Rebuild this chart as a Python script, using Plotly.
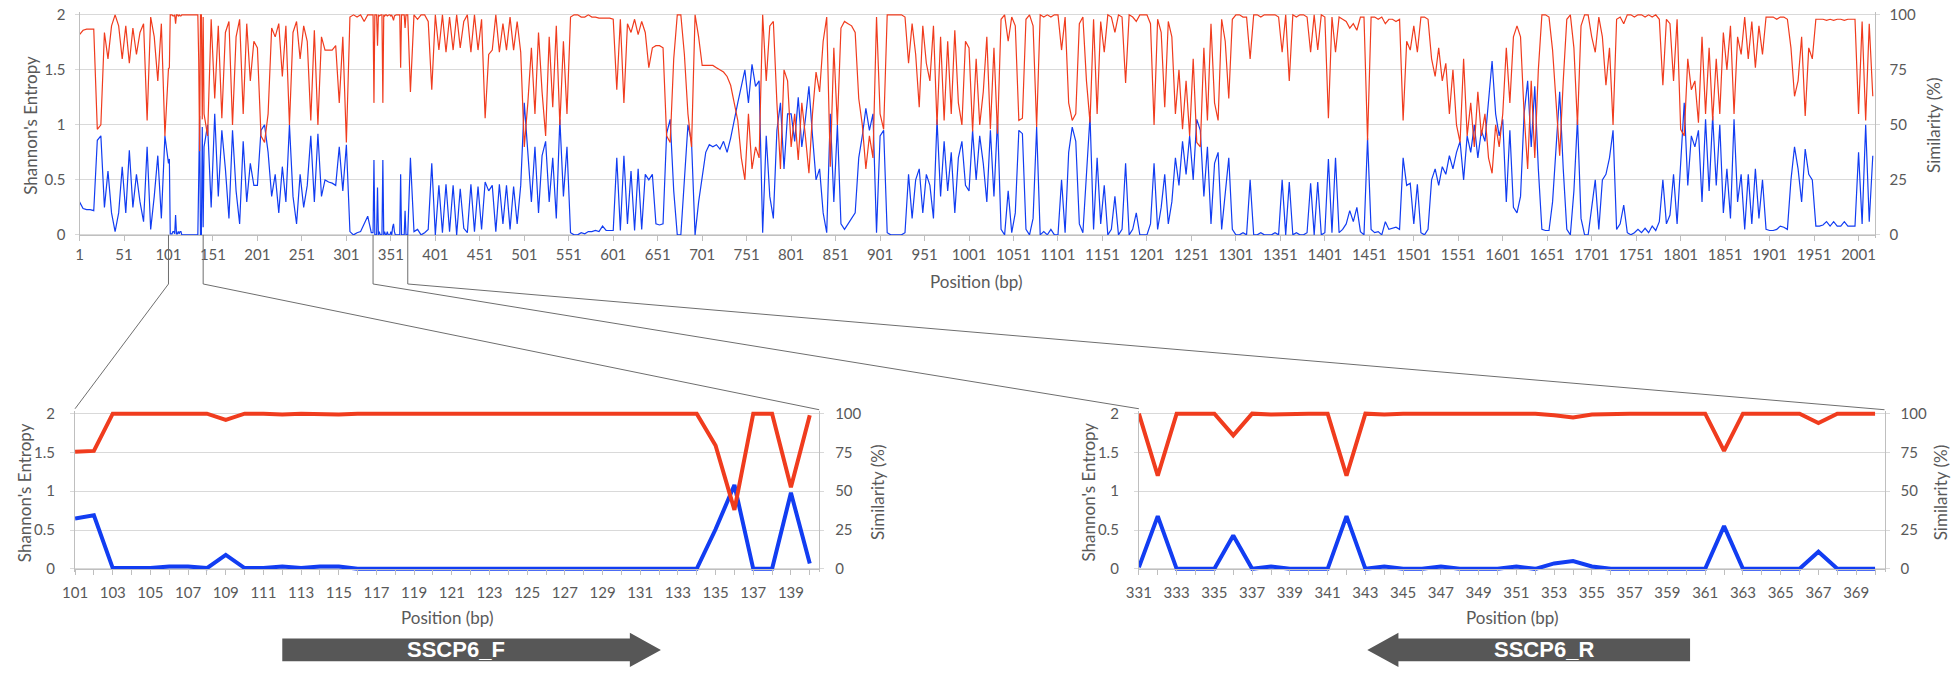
import plotly.graph_objects as go

# ---------------- data ----------------
# overview: values sampled every 4 bp (positions 1, 5, 9, ... 2017)
top_step = 4
top_start = 1

# Shannon's entropy, one row per 100 bp
ent_top = [
    0.30, 0.24, 0.23, 0.23, 0.22, 0.86, 0.90, 0.25, 0.58, 0.20, 0.03, 0.20, 0.62, 0.20, 0.77, 0.25, 0.55, 0.30, 0.12, 0.80, 0.05, 0.35, 0.72, 0.15, 0.90,
    0.65, 0.01, 0.18, 0.01, 0.00, 0.00, 0.00, 0.00, 0.00, 1.08, 0.80, 1.00, 0.25, 1.10, 0.35, 0.95, 0.60, 0.15, 0.95, 0.40, 0.10, 0.85, 0.30, 0.65, 0.45,
    0.45, 0.95, 1.00, 0.75, 0.35, 0.55, 0.20, 0.62, 0.30, 1.00, 0.35, 0.10, 0.55, 0.25, 0.45, 0.90, 0.30, 0.92, 0.35, 0.50, 0.48, 0.47, 0.45, 0.80, 0.40,
    0.82, 0.03, 0.00, 0.02, 0.03, 0.10, 0.17, 0.02, 0.00, 0.00, 0.00, 0.00, 0.00, 0.07, 0.00, 0.00, 0.00, 0.00, 0.70, 0.03, 0.05, 0.00, 0.02, 0.05, 0.65,
    0.00, 0.45, 0.02, 0.46, 0.03, 0.45, 0.00, 0.42, 0.06, 0.02, 0.46, 0.03, 0.44, 0.05, 0.48, 0.40, 0.45, 0.03, 0.46, 0.10, 0.45, 0.05, 0.44, 0.10, 0.45,
    1.20, 0.75, 0.30, 0.80, 0.20, 0.72, 0.85, 0.30, 0.70, 0.15, 1.05, 0.35, 0.80, 0.02, 0.00, 0.00, 0.02, 0.01, 0.03, 0.03, 0.04, 0.03, 0.08, 0.04, 0.04,
    0.04, 0.70, 0.04, 0.72, 0.10, 0.58, 0.04, 0.60, 0.05, 0.55, 0.50, 0.55, 0.10, 0.09, 0.10, 0.92, 1.05, 0.40, 0.00, 0.00, 0.55, 1.00, 0.85, 0.00, 0.30,
    0.55, 0.75, 0.82, 0.80, 0.82, 0.78, 0.85, 0.75, 0.88, 1.05, 1.20, 1.35, 1.50, 1.20, 1.55, 1.35, 1.40, 0.02, 0.90, 0.35, 0.15, 0.95, 1.20, 0.60, 1.10,
    1.10, 0.85, 1.25, 0.80, 1.05, 1.35, 0.90, 0.50, 0.60, 0.20, 0.02, 1.10, 0.30, 1.00, 0.10, 0.05, 0.10, 0.15, 0.20, 0.70, 0.90, 1.15, 0.95, 1.10, 0.02,
    0.90, 0.95, 0.02, 0.00, 0.00, 0.00, 0.00, 0.02, 0.55, 0.15, 0.50, 0.60, 0.20, 0.55, 0.45, 0.15, 1.05, 0.35, 0.85, 0.40, 0.75, 0.20, 0.70, 0.85, 0.45,
    0.40, 0.95, 0.50, 0.90, 0.65, 0.30, 0.95, 0.35, 1.05, 0.05, 0.00, 0.40, 0.02, 0.20, 0.95, 0.92, 0.05, 0.00, 0.15, 0.98, 0.00, 0.03, 0.00, 0.05, 0.00,
    0.00, 0.50, 0.02, 0.75, 0.98, 0.85, 0.10, 0.02, 0.60, 1.08, 0.05, 0.70, 0.10, 0.45, 0.00, 0.05, 0.35, 0.00, 0.05, 0.65, 0.00, 0.05, 0.20, 0.00, 0.00,
    0.00, 0.10, 0.65, 0.05, 0.25, 0.55, 0.10, 0.30, 0.70, 0.45, 0.85, 0.55, 0.90, 0.50, 1.05, 0.95, 0.35, 0.80, 0.10, 0.65, 0.75, 0.05, 0.40, 0.70, 0.05,
    0.00, 0.00, 0.02, 0.00, 0.50, 0.00, 0.00, 0.02, 0.00, 0.00, 0.00, 0.02, 0.00, 0.50, 0.00, 0.48, 0.00, 0.02, 0.00, 0.00, 0.02, 0.47, 0.00, 0.48, 0.00,
    0.02, 0.69, 0.02, 0.70, 0.02, 0.05, 0.10, 0.22, 0.12, 0.25, 0.03, 0.00, 0.88, 0.05, 0.02, 0.03, 0.00, 0.12, 0.05, 0.06, 0.07, 0.05, 0.70, 0.45, 0.47,
    0.10, 0.46, 0.02, 0.00, 0.05, 0.50, 0.60, 0.45, 0.62, 0.55, 0.72, 0.60, 0.75, 0.85, 0.50, 0.90, 0.75, 1.00, 0.70, 0.95, 0.85, 1.25, 1.58, 1.10, 0.90,
    1.05, 0.30, 0.95, 0.25, 0.20, 0.35, 1.10, 1.40, 0.80, 1.35, 0.60, 0.05, 0.04, 0.04, 0.30, 0.85, 1.30, 0.60, 0.05, 0.00, 0.40, 1.05, 0.15, 0.00, 0.00,
    0.25, 0.50, 0.05, 0.50, 0.55, 0.70, 0.95, 0.05, 0.10, 0.27, 0.02, 0.00, 0.02, 0.05, 0.02, 0.06, 0.02, 0.08, 0.04, 0.12, 0.50, 0.10, 0.18, 0.55, 0.10,
    0.70, 1.20, 0.45, 0.90, 0.80, 0.95, 0.30, 1.05, 0.40, 1.08, 0.45, 1.00, 0.20, 0.60, 0.15, 1.05, 0.30, 0.55, 0.05, 0.55, 0.10, 0.60, 0.15, 0.50, 0.05,
    0.04, 0.04, 0.05, 0.08, 0.07, 0.05, 0.50, 0.80, 0.60, 0.30, 0.78, 0.55, 0.50, 0.08, 0.08, 0.09, 0.12, 0.08, 0.12, 0.08, 0.08, 0.12, 0.08, 0.08, 0.08,
    0.75, 0.10, 1.00, 0.12, 0.72,
]

# similarity (%), same positions
sim_top = [
    91, 93, 93.5, 93.5, 93.5, 48, 50, 92, 80, 95, 100, 95, 80, 95, 78, 94, 82, 92, 96, 52, 99, 90, 70, 96, 45,
    75.5, 100, 96, 100, 100, 100, 100, 100, 100, 40, 55, 45, 98, 62, 95, 53, 92, 97, 50, 90, 98, 55, 96, 70, 88,
    85, 45, 42, 55, 94, 90, 96, 72, 95, 50, 92, 97, 80, 95, 88, 52, 93, 50, 90, 84, 84, 84, 86, 60, 90,
    42, 99, 100, 99, 100, 97, 100, 100, 100, 100, 100, 100, 100, 99, 100, 100, 100, 100, 65, 100, 98, 100, 100, 97, 66,
    100, 84, 100, 83, 99, 84, 100, 85, 97, 100, 83, 100, 84, 98, 53, 82, 84, 100, 83, 96, 84, 99, 84, 97, 83,
    40, 60, 85, 55, 92, 65, 45, 90, 58, 95, 50, 88, 55, 99, 100, 100, 99, 99, 100, 99, 99, 98.5, 98.5, 98.5, 98.5,
    98, 66, 98, 60, 96, 92, 98, 91, 97, 92, 76, 85, 86, 86, 85, 45, 42, 80, 100, 100, 82, 55, 40, 100, 90,
    77, 77, 77, 77, 76, 75, 74, 72, 68, 60, 52, 35, 25, 55, 30, 40, 35, 100, 70, 95, 97, 60, 30, 75, 70,
    40, 55, 34, 60, 45, 28, 55, 74, 65, 88, 99, 31, 85, 50, 94, 97, 96, 95, 92, 62, 50, 30, 45, 35, 99,
    55, 48, 100, 100, 100, 100, 100, 99, 78, 96, 82, 58, 95, 78, 70, 95, 50, 90, 52, 88, 55, 93, 60, 50, 88,
    85, 47, 80, 50, 65, 90, 48, 85, 46, 98, 100, 88, 99, 95, 52, 53, 98, 100, 95, 49, 100, 99, 100, 99, 100,
    100, 84, 99, 60, 52, 55, 96, 99, 70, 51, 98, 55, 97, 83, 100, 99, 92, 100, 99, 69, 100, 99, 97, 100, 100,
    100, 96, 50, 98, 92, 58, 97, 90, 55, 75, 48, 70, 45, 80, 42, 40, 85, 52, 96, 60, 52, 98, 88, 62, 98,
    100, 100, 99, 99, 80, 100, 100, 99, 100, 100, 100, 100, 99, 83, 100, 70, 100, 99, 100, 100, 99, 83, 100, 84, 100,
    99, 53, 99, 83, 99, 98, 97, 94, 96, 93, 99, 99, 43, 99, 99, 98, 99, 96, 98, 98, 97, 98, 52, 88, 84,
    95, 83, 99, 99, 98, 80, 72, 85, 70, 78, 55, 75, 50, 42, 80, 45, 60, 40, 65, 45, 55, 35, 28, 50, 40,
    55, 85, 60, 90, 95, 90, 55, 30, 70, 35, 75, 100, 100, 99, 84, 60, 36, 70, 98, 100, 85, 50, 95, 100, 100,
    90, 83, 99, 90, 68, 85, 50, 98, 99, 96, 100, 100, 99, 100, 100, 99, 100, 99, 100, 98, 68, 98, 96, 70, 98,
    48, 45, 80, 66, 70, 51, 90, 55, 85, 52, 80, 55, 92, 75, 95, 55, 90, 82, 99, 80, 97, 76, 95, 82, 99,
    99, 99, 98, 99, 99, 98, 85, 63, 70, 90, 54, 85, 80, 98, 98, 98, 97.5, 98, 97.5, 98, 98, 97.5, 98, 98, 98,
    55, 97, 52, 96, 63,
]

# zoom on the forward primer region, 101-140 bp
pos_f = list(range(101, 141))
ent_f = [0.65, 0.69, 0.01, 0.01, 0.01, 0.03, 0.03, 0.01, 0.18, 0.01,
         0.01, 0.03, 0.01, 0.03, 0.03, 0.00, 0.00, 0.00, 0.00, 0.00,
         0.00, 0.00, 0.00, 0.00, 0.00, 0.00, 0.00, 0.00, 0.00, 0.00,
         0.00, 0.00, 0.00, 0.00, 0.51, 1.08, 0.00, 0.00, 0.98, 0.07]
sim_f = [75.5, 76, 100, 100, 100, 99.5, 99.5, 100, 96, 100,
         100, 99.5, 100, 99.5, 99.5, 100, 100, 100, 100, 100,
         100, 100, 100, 100, 100, 100, 100, 100, 100, 100,
         100, 100, 100, 100, 79.5, 38, 100, 100, 52.5, 99]

# zoom on the reverse primer region, 331-370 bp
pos_r = list(range(331, 371))
ent_r = [0.02, 0.68, 0.00, 0.00, 0.00, 0.43, 0.00, 0.03, 0.00, 0.00,
         0.00, 0.68, 0.00, 0.03, 0.00, 0.00, 0.03, 0.00, 0.00, 0.00,
         0.03, 0.00, 0.07, 0.10, 0.03, 0.00, 0.00, 0.00, 0.00, 0.00,
         0.00, 0.55, 0.00, 0.00, 0.00, 0.00, 0.22, 0.00, 0.00, 0.00]
sim_r = [100, 60, 100, 100, 100, 86, 100, 99.5, 100, 100,
         100, 60, 100, 99.5, 100, 100, 99.5, 100, 100, 100,
         99.5, 100, 99, 97.5, 99.5, 100, 100, 100, 100, 100,
         100, 76, 100, 100, 100, 100, 94, 100, 100, 100]

# primers: name, 5' end, 3' end (arrow points to the 3' end)
primer_names = ['SSCP6_F', 'SSCP6_R']
primer_from = [112, 360.2]
primer_to = [132.1, 343.1]

# ---------------- merge overview + zoomed detail ----------------
pos_top = list(range(top_start, top_start + top_step * len(ent_top), top_step))
ent_map = dict(zip(pos_top, ent_top))
sim_map = dict(zip(pos_top, sim_top))
for p, e, s in zip(pos_f + pos_r, ent_f + ent_r, sim_f + sim_r):
    ent_map[p] = e
    sim_map[p] = s
xs_top = sorted(ent_map)
ye_top = [ent_map[p] for p in xs_top]
ys_top = [sim_map[p] for p in xs_top]

# ---------------- styling / geometry (pixels of a 1955x676 page) ----------------
W, H = 1955, 676
RED = '#F03C1E'
BLUE = '#123DF2'
GRID = '#D9D9D9'
AXIS = '#BFBFBF'
TXT = '#595959'
LINK = '#6E6E6E'
FONT = 'Lato'
PAD = 3  # px of head room so lines at 0 / max are not clipped


def px(x):
    return x / W


def py(y):
    return 1 - y / H


def ydom(top_px, bot_px):
    return [py(bot_px + PAD), py(top_px - PAD)]


def yrng(top_px, bot_px, vmax):
    u = vmax / (bot_px - top_px)
    return [-PAD * u, vmax + PAD * u]


def to_paper(v, dom, rng):
    return dom[0] + (v - rng[0]) / (rng[1] - rng[0]) * (dom[1] - dom[0])


top_xd, top_xr = [px(67), px(1875)], [1, 2019]
lf_xd, lf_xr = [px(62.5), px(812)], [101, 140.5]
rt_xd, rt_xr = [px(1134), px(1885)], [331, 370.5]
TOP_T, TOP_B = 8, 232
BOT_T, BOT_B = 414, 572

tickfont = dict(family=FONT, size=15, color=TXT)

fig = go.Figure()
fig.add_trace(go.Scatter(x=xs_top, y=ye_top, xaxis='x', yaxis='y', mode='lines',
                         line=dict(color=BLUE, width=1.2), name="Shannon's Entropy"))
fig.add_trace(go.Scatter(x=xs_top, y=ys_top, xaxis='x', yaxis='y2', mode='lines',
                         line=dict(color=RED, width=1.2), name='Similarity'))
fig.add_trace(go.Scatter(x=pos_f, y=ent_f, xaxis='x2', yaxis='y3', mode='lines',
                         line=dict(color=BLUE, width=4)))
fig.add_trace(go.Scatter(x=pos_f, y=sim_f, xaxis='x2', yaxis='y4', mode='lines',
                         line=dict(color=RED, width=4)))
fig.add_trace(go.Scatter(x=pos_r, y=ent_r, xaxis='x3', yaxis='y5', mode='lines',
                         line=dict(color=BLUE, width=4)))
fig.add_trace(go.Scatter(x=pos_r, y=sim_r, xaxis='x3', yaxis='y6', mode='lines',
                         line=dict(color=RED, width=4)))


def xaxis(dom, rng, tickvals, ticktext, zero_px, standoff):
    return dict(domain=dom, range=rng, tickmode='array', tickvals=tickvals, ticktext=ticktext,
                ticks='outside', ticklen=5, tickcolor=AXIS, showline=True, linecolor=AXIS,
                showgrid=False, zeroline=False, anchor='free', position=py(zero_px),
                tickfont=tickfont, ticklabelstandoff=standoff, fixedrange=True)


def yleft(dom, rng, dtick, anchor, standoff):
    return dict(domain=dom, range=rng, dtick=dtick, tick0=0, showgrid=True, gridcolor=GRID,
                showline=True, linecolor=AXIS, ticks='outside', ticklen=4, tickcolor=GRID,
                zeroline=False, anchor=anchor, tickfont=tickfont, ticklabelstandoff=standoff)


def yright(over, rng, dtick, anchor, standoff):
    return dict(overlaying=over, side='right', range=rng, dtick=dtick, tick0=0, showgrid=False,
                showline=True, linecolor=AXIS, ticks='outside', ticklen=4, tickcolor=GRID,
                zeroline=False, anchor=anchor, tickfont=tickfont, ticklabelstandoff=standoff)


top_ticks = list(range(1, 2002, 50))
fig.update_layout(
    xaxis=xaxis(top_xd, top_xr, top_ticks, [str(t) for t in top_ticks], TOP_B, 1),
    xaxis2=xaxis(lf_xd, lf_xr, pos_f, [str(p) if (p - 101) % 2 == 0 else '' for p in pos_f], BOT_B, 5),
    xaxis3=xaxis(rt_xd, rt_xr, pos_r, [str(p) if (p - 331) % 2 == 0 else '' for p in pos_r], BOT_B, 5),
    yaxis=yleft(ydom(TOP_T, TOP_B), yrng(TOP_T, TOP_B, 2), 0.5, 'x', 6),
    yaxis2=yright('y', yrng(TOP_T, TOP_B, 100), 25, 'x', 7),
    yaxis3=yleft(ydom(BOT_T, BOT_B), yrng(BOT_T, BOT_B, 2), 0.5, 'x2', 12),
    yaxis4=yright('y3', yrng(BOT_T, BOT_B, 100), 25, 'x2', 8),
    yaxis5=yleft(ydom(BOT_T, BOT_B), yrng(BOT_T, BOT_B, 2), 0.5, 'x3', 12),
    yaxis6=yright('y5', yrng(BOT_T, BOT_B, 100), 25, 'x3', 8),
)

# axis titles
titles = [
    ("Shannon's Entropy", 18, 120, -90),
    ('Similarity (%)', 1935, 120, -90),
    ('Position (bp)', 970, 279, 0),
    ("Shannon's Entropy", 11, 494, -90),
    ('Similarity (%)', 870, 494, -90),
    ('Position (bp)', 437, 622, 0),
    ("Shannon's Entropy", 1083, 494, -90),
    ('Similarity (%)', 1941, 494, -90),
    ('Position (bp)', 1510, 622, 0),
]
annotations = []
for text, x, y, ang in titles:
    annotations.append(dict(text=text, x=px(x), y=py(y), xref='paper', yref='paper',
                            xanchor='center', yanchor='middle', showarrow=False, textangle=ang,
                            font=dict(family=FONT, size=17, color=TXT)))

# primer arrows
shapes = []
ARROW_BODY = (643, 666)
ARROW_HEAD = (637, 672)
HEAD_LEN = 1.65
for name, a, b, xref in zip(primer_names, primer_from, primer_to, ['x2', 'x3']):
    d = 1 if b > a else -1
    hb = b - d * HEAD_LEN
    yb0, yb1 = py(ARROW_BODY[0]), py(ARROW_BODY[1])
    yh0, yh1 = py(ARROW_HEAD[0]), py(ARROW_HEAD[1])
    yc = (yb0 + yb1) / 2
    path = (f'M {a},{yb0} L {hb},{yb0} L {hb},{yh0} L {b},{yc} '
            f'L {hb},{yh1} L {hb},{yb1} L {a},{yb1} Z')
    shapes.append(dict(type='path', path=path, xref=xref, yref='paper',
                       fillcolor='#575757', line=dict(width=0)))
    annotations.append(dict(text=f'<b>{name}</b>', x=(a + hb) / 2, y=yc, xref=xref, yref='paper',
                            xanchor='center', yanchor='middle', showarrow=False,
                            font=dict(family='Liberation Sans', size=22, color='white')))

# connector lines from the overview axis to the zoomed panels
KINK = 282
links = [
    (101, lf_xd[0], 409),
    (140, lf_xd[1], 410),
    (331, rt_xd[0], 409),
    (370, rt_xd[1], 410),
]
for pos, bx, by in links:
    tx = to_paper(pos, top_xd, top_xr)
    path = f'M {tx},{py(TOP_B)} L {tx},{py(KINK)} L {bx},{py(by)}'
    shapes.append(dict(type='path', path=path, xref='paper', yref='paper',
                       line=dict(color=LINK, width=1)))

fig.update_layout(
    width=W, height=H,
    margin=dict(l=0, r=0, t=0, b=0),
    paper_bgcolor='white', plot_bgcolor='white',
    showlegend=False,
    annotations=annotations,
    shapes=shapes,
    font=dict(family=FONT, color=TXT),
)

# drop the default 8px body margin so the 1955x676 figure fills the window exactly
fig.write_html('out.html', config={'displayModeBar': False},
               post_script="document.body.style.margin='0';document.body.style.overflow='hidden';")
